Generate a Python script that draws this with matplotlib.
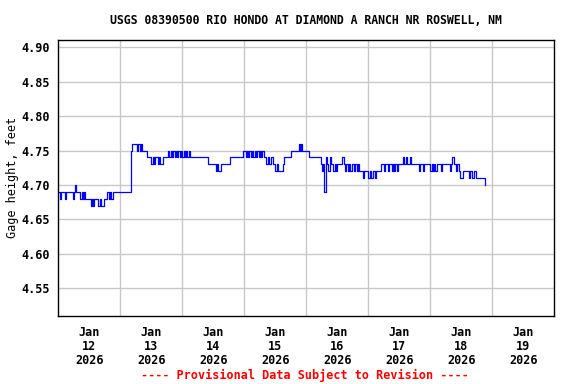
import numpy as np
import matplotlib
matplotlib.use("Agg")
import matplotlib.pyplot as plt

# gage height in hundredths of a foot above 4.00, one value per 30 minutes
jan12 = [69, 68, 69, 69, 69, 68, 69, 69, 69, 69, 69, 68, 69, 70, 69, 69,
         69, 68, 69, 68, 69, 68, 68, 68, 68, 67, 68, 67, 68, 68, 68, 67,
         68, 67, 67, 68, 68, 68, 69, 68, 69, 68, 69, 69, 69, 69, 69, 69]
jan13 = [69, 69, 69, 69, 69, 69, 69, 69, 75, 76, 76, 76, 76, 75, 76, 75,
         76, 75, 75, 75, 75, 74, 74, 74, 73, 74, 73, 74, 74, 73, 74, 73,
         73, 74, 74, 74, 74, 75, 74, 75, 74, 75, 74, 75, 74, 75, 74, 75]
jan14 = [74, 75, 74, 75, 74, 75, 74, 74, 74, 74, 74, 74, 74, 74, 74, 74,
         74, 74, 74, 74, 73, 73, 73, 73, 73, 73, 72, 73, 72, 72, 73, 73,
         73, 73, 73, 73, 73, 74, 74, 74, 74, 74, 74, 74, 74, 74, 74, 75]
jan15 = [75, 74, 75, 74, 75, 74, 75, 74, 75, 74, 75, 74, 75, 74, 75, 74,
         74, 73, 74, 73, 73, 74, 73, 73, 72, 73, 72, 72, 72, 72, 73, 74,
         74, 74, 74, 74, 75, 75, 75, 75, 75, 75, 76, 75, 76, 75, 75, 75]
jan16 = [75, 75, 74, 74, 74, 74, 74, 74, 74, 74, 74, 73, 72, 73, 69, 74,
         73, 72, 74, 73, 73, 72, 73, 72, 73, 73, 73, 73, 74, 73, 72, 73,
         72, 73, 72, 73, 73, 72, 73, 72, 73, 72, 72, 72, 71, 72, 72, 72]
jan17 = [71, 72, 71, 71, 72, 71, 72, 72, 72, 72, 73, 73, 72, 73, 73, 72,
         73, 73, 72, 73, 72, 73, 72, 73, 73, 73, 73, 74, 73, 74, 73, 73,
         74, 73, 73, 73, 73, 73, 73, 72, 73, 73, 72, 73, 73, 73, 73, 73]
jan18 = [72, 73, 72, 73, 72, 73, 73, 73, 72, 73, 73, 73, 73, 73, 73, 72,
         73, 74, 73, 73, 72, 73, 72, 71, 71, 72, 72, 72, 72, 72, 71, 72,
         71, 71, 72, 71, 71, 71, 71, 71, 71, 71, 70]

day_labels = ["Jan\n12\n2026", "Jan\n13\n2026", "Jan\n14\n2026", "Jan\n15\n2026",
              "Jan\n16\n2026", "Jan\n17\n2026", "Jan\n18\n2026", "Jan\n19\n2026"]
y_ticks = [4.55, 4.60, 4.65, 4.70, 4.75, 4.80, 4.85, 4.90]

title = "USGS 08390500 RIO HONDO AT DIAMOND A RANCH NR ROSWELL, NM"
footer = "---- Provisional Data Subject to Revision ----"

values = np.array(jan12 + jan13 + jan14 + jan15 + jan16 + jan17 + jan18) / 100 + 4.0
days = np.arange(len(values)) * 0.5 / 24  # days since Jan 12 00:00

plt.rcParams['font.family'] = 'DejaVu Sans Mono'
plt.rcParams['font.weight'] = 'bold'
plt.rcParams['font.size'] = 8.5

fig = plt.figure(figsize=(5.76, 3.84), dpi=100)
ax = fig.add_axes([58.3 / 576, 68 / 384, 496 / 576, 276.5 / 384])

ax.plot(days, values, drawstyle='steps-post', color='#0000ff', linewidth=0.9)

ax.set_xlim(0, 8)
ax.set_ylim(4.51, 4.911)

# gridlines at midnight, labels at noon
ax.set_xticks(np.arange(1, 8), minor=True)
ax.set_xticks(np.arange(8) + 0.5)
ax.set_xticklabels(day_labels, linespacing=1.1)
ax.set_yticks(y_ticks)
ax.set_yticklabels([f"{v:.2f}" for v in y_ticks])
ax.grid(True, which='minor', axis='x', color='#c8c8c8', linewidth=1)
ax.grid(True, which='major', axis='y', color='#c8c8c8', linewidth=1)
ax.set_axisbelow(True)
ax.tick_params(which='both', length=0)
ax.tick_params(axis='x', pad=7)
ax.tick_params(axis='y', pad=6)
for s in ax.spines.values():
    s.set_linewidth(1)
    s.set_color('black')

ax.set_ylabel("Gage height, feet", labelpad=2)
fig.text(306 / 576, 1 - 20 / 384, title, ha='center', va='center', fontsize=8.3)
fig.text(305 / 576, 1 - 375 / 384, footer, ha='center', va='center', color='red', fontsize=8.5)

fig.savefig("out.png", dpi=100)
